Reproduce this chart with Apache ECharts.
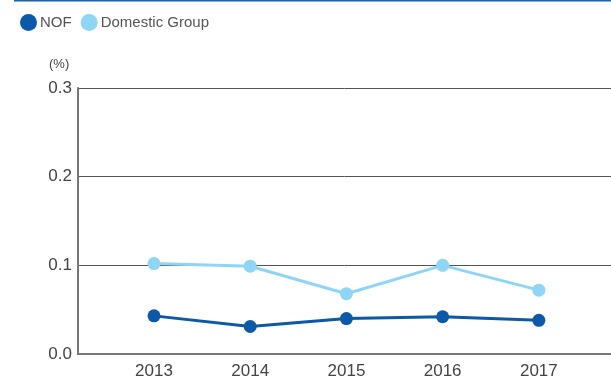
<!DOCTYPE html>
<html>
<head>
<meta charset="utf-8">
<script src="https://cdn.jsdelivr.net/npm/echarts@6/dist/echarts.min.js"></script>
<style>
  html, body { margin: 0; padding: 0; background: #fff; }
  #chart { width: 611px; height: 380px; }
</style>
</head>
<body>
<div id="chart"></div>
<script>
// Fiscal years shown on the x axis
const years = [2013, 2014, 2015, 2016, 2017];
// Rates in percent
const nofValues = [0.043, 0.031, 0.040, 0.042, 0.038];
const domesticValues = [0.102, 0.099, 0.068, 0.100, 0.072];
// Y axis tick values
const yTicks = [0.0, 0.1, 0.2, 0.3];

const seriesNames = ['NOF', 'Domestic Group'];
const colors = ['#0b59a8', '#8fd5f5'];

const pairs = (vals) => years.map((y, i) => [y, vals[i]]);

const chart = echarts.init(document.getElementById('chart'), null, { renderer: 'canvas' });

const font = '"Liberation Sans", Arial, Helvetica, sans-serif';

chart.setOption({
  animation: false,
  textStyle: { fontFamily: font },
  title: {
    text: '(%)',
    left: 44,
    top: 53,
    textStyle: { fontSize: 13, fontWeight: 'normal', color: '#444', fontFamily: font }
  },
  graphic: [{
    type: 'line',
    shape: { x1: 14, y1: 0.5, x2: 611, y2: 0.5 },
    style: { stroke: '#1a62b0', lineWidth: 2 }
  }],
  legend: {
    left: 15,
    top: 9,
    icon: 'circle',
    itemWidth: 17,
    itemHeight: 17,
    itemGap: 9,
    textStyle: { fontSize: 15, color: '#555', fontFamily: font, padding: [0, 0, 0, -2] },
    data: seriesNames
  },
  grid: { left: 78, right: 0, top: 88, bottom: 25, containLabel: false },
  xAxis: {
    type: 'value',
    min: 2012.21,
    max: 2017.75,
    splitLine: { show: false },
    axisTick: { show: false },
    axisLine: { show: true, onZero: false, lineStyle: { color: '#777', width: 2 } },
    axisLabel: {
      customValues: years,
      margin: 9,
      fontSize: 17,
      color: '#444',
      fontFamily: font,
      formatter: (v) => String(v)
    }
  },
  yAxis: {
    type: 'value',
    min: yTicks[0],
    max: yTicks[yTicks.length - 1],
    interval: 0.1,
    axisLine: { show: true, lineStyle: { color: '#777', width: 2 } },
    axisTick: { show: false },
    splitLine: { show: true, lineStyle: { color: '#555', width: 1 } },
    axisLabel: {
      margin: 6,
      fontSize: 17,
      color: '#444',
      fontFamily: font,
      formatter: (v) => v.toFixed(1)
    }
  },
  series: [
    {
      name: seriesNames[1],
      type: 'line',
      data: pairs(domesticValues),
      symbol: 'circle',
      symbolSize: 13,
      color: colors[1],
      lineStyle: { width: 3, color: colors[1] },
      itemStyle: { color: colors[1] },
      z: 2
    },
    {
      name: seriesNames[0],
      type: 'line',
      data: pairs(nofValues),
      symbol: 'circle',
      symbolSize: 13,
      color: colors[0],
      lineStyle: { width: 3, color: colors[0] },
      itemStyle: { color: colors[0] },
      z: 3
    }
  ]
});
</script>
</body>
</html>
